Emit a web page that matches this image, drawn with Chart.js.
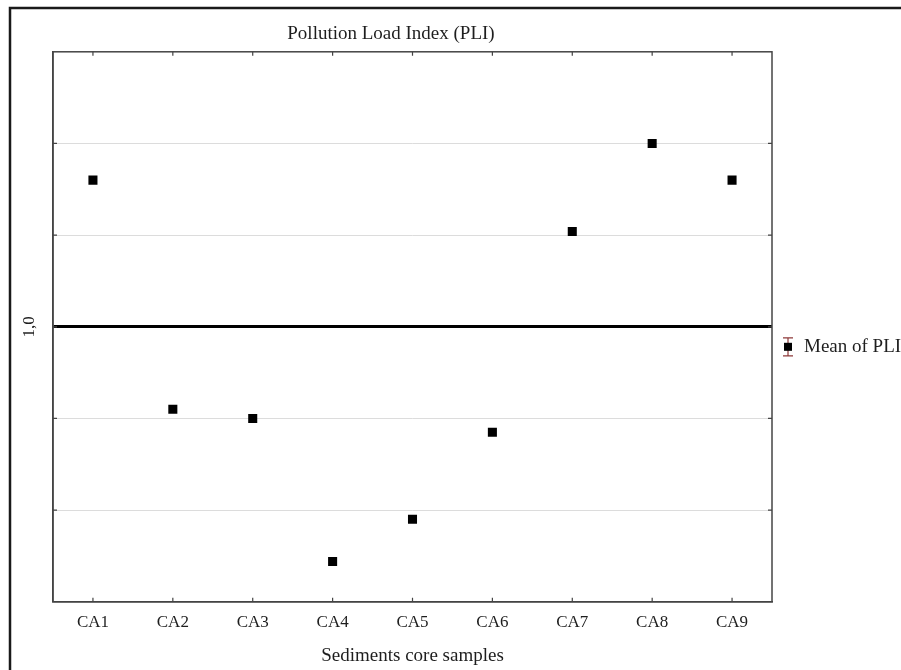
<!DOCTYPE html>
<html>
<head>
<meta charset="utf-8">
<script src="https://cdn.jsdelivr.net/npm/chart.js@4.4.1/dist/chart.umd.min.js"></script>
<style>
  html, body { margin: 0; padding: 0; background: #fff; }
  #wrap { width: 901px; height: 670px; }
</style>
</head>
<body>
<div id="wrap"><canvas id="c" width="901" height="670"></canvas></div>
<script>
// Sediment core samples and their pollution load index
const samples = ['CA1', 'CA2', 'CA3', 'CA4', 'CA5', 'CA6', 'CA7', 'CA8', 'CA9'];
const pliMeans = [1.16, 0.91, 0.90, 0.744, 0.79, 0.885, 1.104, 1.20, 1.16];

// Value axis: range, grid step and the single labelled tick
const yMin = 0.7;
const yMax = 1.3;
const yStep = 0.1;
const yTickLabels = [{ value: 1.0, text: '1,0' }];
const referenceLevel = 1.0;

const chartTitle = 'Pollution Load Index (PLI)';
const xAxisTitle = 'Sediments core samples';
const seriesName = 'Mean of PLI';

const SERIF = '"Liberation Serif", "Times New Roman", serif';
const INK = '#1e1e1e';

// White page with a heavy frame running off the right and bottom edges
const framePlugin = {
  id: 'frame',
  beforeDraw(chart) {
    const ctx = chart.ctx;
    ctx.save();
    ctx.fillStyle = '#fff';
    ctx.fillRect(0, 0, chart.width, chart.height);
    ctx.strokeStyle = '#1a1a1a';
    ctx.lineWidth = 2.5;
    ctx.strokeRect(10, 8, chart.width + 50, chart.height + 50);
    ctx.restore();
  }
};

// Plot box, inward tick marks, the rotated value label and the legend entry
const decorPlugin = {
  id: 'decor',
  afterDraw(chart) {
    const ctx = chart.ctx;
    const a = chart.chartArea;
    const xs = chart.scales.x;
    const ys = chart.scales.y;
    ctx.save();

    ctx.strokeStyle = '#444';
    ctx.lineWidth = 1.5;
    ctx.strokeRect(a.left, a.top, a.right - a.left, a.bottom - a.top);

    ctx.lineWidth = 1.2;
    ctx.beginPath();
    xs.ticks.forEach((t, i) => {
      const px = xs.getPixelForTick(i);
      ctx.moveTo(px, a.bottom); ctx.lineTo(px, a.bottom - 4);
      ctx.moveTo(px, a.top); ctx.lineTo(px, a.top + 4);
    });
    ys.ticks.forEach((t) => {
      if (t.value <= yMin + 1e-9 || t.value >= yMax - 1e-9) return;
      const py = ys.getPixelForValue(t.value);
      ctx.moveTo(a.left, py); ctx.lineTo(a.left + 4, py);
      ctx.moveTo(a.right, py); ctx.lineTo(a.right - 4, py);
    });
    ctx.stroke();

    // value label, read bottom to top
    ctx.fillStyle = INK;
    ctx.font = '17px ' + SERIF;
    ctx.textAlign = 'center';
    ctx.textBaseline = 'middle';
    yTickLabels.forEach((lab) => {
      const py = ys.getPixelForValue(lab.value);
      ctx.save();
      ctx.translate(a.left - 23, py);
      ctx.rotate(-Math.PI / 2);
      ctx.fillText(lab.text, 0, 0);
      ctx.restore();
    });

    // legend: mean marker with whiskers, then the series name
    const lx = a.right + 16;
    const ly = (a.top + a.bottom) / 2 + 20;
    ctx.strokeStyle = '#8e3a3a';
    ctx.lineWidth = 1.2;
    ctx.beginPath();
    ctx.moveTo(lx, ly - 9); ctx.lineTo(lx, ly + 9);
    ctx.moveTo(lx - 5, ly - 9); ctx.lineTo(lx + 5, ly - 9);
    ctx.moveTo(lx - 5, ly + 9); ctx.lineTo(lx + 5, ly + 9);
    ctx.stroke();
    ctx.fillStyle = '#000';
    ctx.fillRect(lx - 4, ly - 4, 8, 8);
    ctx.fillStyle = INK;
    ctx.font = '19px ' + SERIF;
    ctx.textAlign = 'left';
    ctx.fillText(seriesName, lx + 16, ly);

    ctx.restore();
  }
};

new Chart(document.getElementById('c'), {
  type: 'line',
  data: {
    labels: samples,
    datasets: [{
      label: seriesName,
      data: pliMeans,
      showLine: false,
      pointStyle: 'rect',
      pointRadius: 6.4,
      pointHoverRadius: 6.4,
      pointBackgroundColor: '#000',
      pointBorderColor: '#000',
      pointBorderWidth: 0
    }]
  },
  options: {
    responsive: false,
    animation: false,
    events: [],
    layout: { padding: { left: 10, right: 129, top: 0, bottom: 0 } },
    plugins: {
      legend: { display: false },
      tooltip: { enabled: false },
      title: {
        display: true,
        text: chartTitle,
        color: INK,
        font: { family: SERIF, size: 19, weight: 'normal' },
        padding: { top: 23, bottom: 6 }
      }
    },
    scales: {
      x: {
        type: 'category',
        offset: true,
        grid: { display: false, drawTicks: false },
        border: { display: true, color: '#444', width: 1.5 },
        ticks: {
          color: INK,
          padding: 11,
          font: { family: SERIF, size: 17 }
        },
        title: {
          display: true,
          text: xAxisTitle,
          color: INK,
          font: { family: SERIF, size: 19 },
          padding: { top: 0, bottom: 3 }
        }
      },
      y: {
        min: yMin,
        max: yMax,
        ticks: { stepSize: yStep, display: false },
        afterFit(scale) { scale.width = 43; },
        border: { display: true, color: '#444', width: 1.5 },
        grid: {
          drawTicks: false,
          color(ctx) {
            const v = ctx.tick.value;
            if (Math.abs(v - yMin) < 1e-9 || Math.abs(v - yMax) < 1e-9) return 'rgba(0,0,0,0)';
            return Math.abs(v - referenceLevel) < 1e-9 ? '#000' : '#dcdcdc';
          },
          lineWidth(ctx) {
            return Math.abs(ctx.tick.value - referenceLevel) < 1e-9 ? 3 : 1;
          }
        }
      }
    }
  },
  plugins: [framePlugin, decorPlugin]
});
</script>
</body>
</html>
